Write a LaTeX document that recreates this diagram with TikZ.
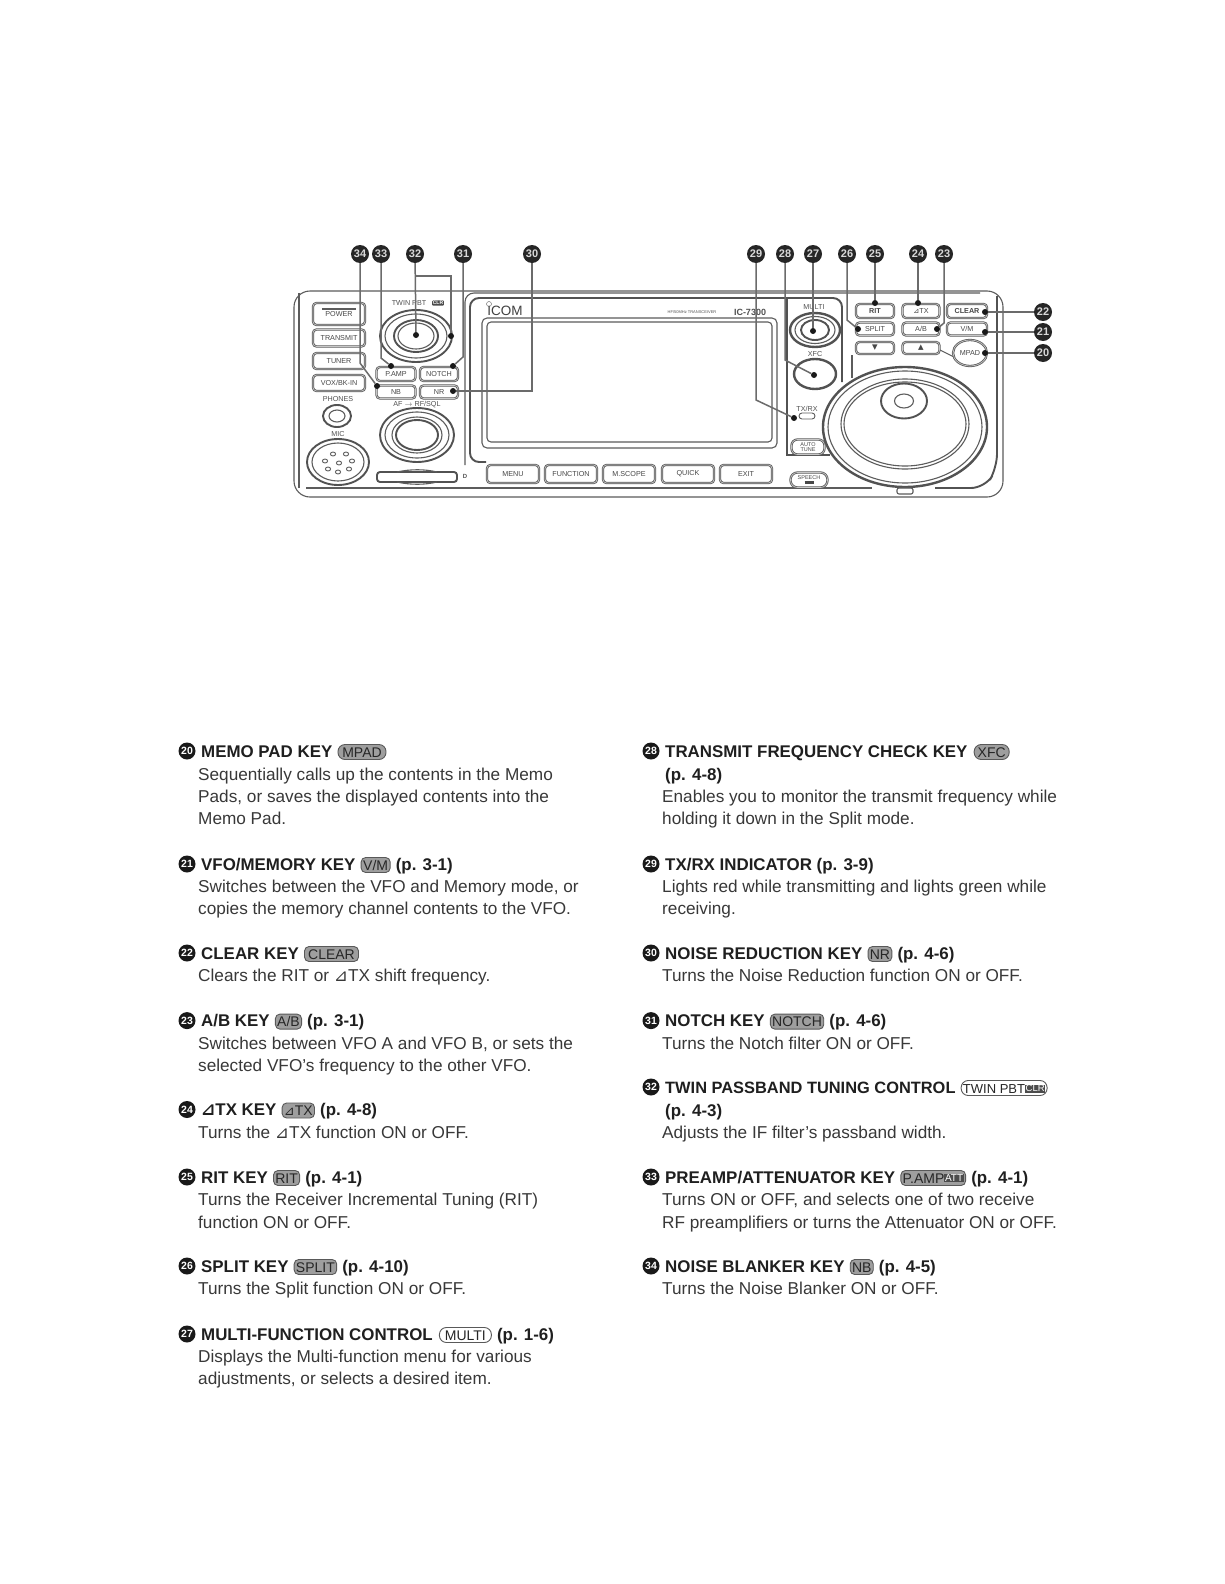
\documentclass[tikz,border=0pt]{standalone}
\usepackage{fontspec}
\setmainfont{Liberation Sans}
\newfontfamily\djv{DejaVu Sans}
\usetikzlibrary{shapes.geometric}
\definecolor{pl}{gray}{0.36}
\definecolor{tx}{gray}{0.22}
\newcommand{\fs}[1]{\fontsize{#1}{#1}\selectfont}
\newcommand{\tri}{{\djv\fontsize{17}{17}\selectfont ⊿}}
\newcommand{\trik}{{\djv\fontsize{13}{13}\selectfont ⊿}}
\newcommand{\pkey}[6]{\node[pkeyst,minimum width=#4pt,minimum height=#5pt] (#1) at (#2,#3) {#6};}
\newcommand{\ring}[5]{\draw[#5] (#1,#2) ellipse (#3pt and #4pt);}
\newcommand{\darktag}[2]{\raisebox{1.2pt}{\setlength{\fboxsep}{.6pt}\colorbox{black!70}{\textcolor{white}{\fs{#1}#2}}}}
\tikzset{
 bodyt/.style={anchor=base west,inner sep=0pt,font=\fs{17.2},text=tx},
 headt/.style={anchor=base west,inner sep=0pt,font=\bfseries\fs{16.9},text=black!88},
 pillst/.style={anchor=base west,draw=black!65,fill=black!38,line width=.9pt,rounded corners=4.5pt,inner xsep=1.8pt,inner ysep=1.5pt,text height=11pt,text depth=1pt,align=center,font=\fs{14},text=black!85},
 numt/.style={circle,fill=black!90,text=white,inner sep=0pt,minimum size=17pt,font=\bfseries\fs{10.5}},
 numd/.style={circle,fill=black!85,text=white!85!black,inner sep=0pt,minimum size=18pt,font=\bfseries\fs{11}},
 dotst/.style={circle,fill=black!90,inner sep=0pt,minimum size=6pt},
 pkeyst/.style={draw=pl,line width=.8pt,double=black!22,double distance=.7pt,rounded corners=3.5pt,inner sep=0pt,font=\fs{7.2},text=black!72},
 plab/.style={inner sep=0pt,font=\fs{7.2},text=black!68},
 pline/.style={draw=pl,line width=1.1pt},
 pthick/.style={draw=black!68,line width=1.9pt},
 conn/.style={draw=black!58,line width=1.5pt},
}
\begin{document}
\begin{tikzpicture}[x=1pt,y=-1pt]
\useasboundingbox[fill=white] (0,0) rectangle (1224,1584);
% --- panel body
\draw[pline,rounded corners=16pt] (294,497) -- (294,291) -- (1003,291) -- (1003,497) -- cycle;
\draw[pline,rounded corners=8pt] (299,488) -- (299,293);
\draw[pthick,rounded corners=14pt] (997,296) -- (997,468) -- (985,488) -- (935,488);
\draw[pline] (306,488) -- (872,488);
% screen frames
\draw[pthick,rounded corners=9pt] (486,462) -- (470,462) -- (470,298) -- (842,298) -- (842,382);
\draw[pline,rounded corners=9pt] (465,465) -- (465,293) -- (980,293);
\draw[pthick] (787,298) -- (787,455) -- (830,455);
\draw[pline,rounded corners=5pt] (482,318) rectangle (777,448);
\draw[pline,rounded corners=4pt] (487,322) rectangle (772,442);
\node[plab,font=\fs{13.5},text=black!75] (logo) at (505,311) {ICOM};
\node[draw=pl,circle,inner sep=0pt,minimum size=5pt] (logodot) at (489,304) {};
\node[plab,font=\fs{4}] (model) at (692,312) {HF/50MHz TRANSCEIVER};
\node[plab,font=\bfseries\fs{9}] (model2) at (750,312) {IC-7300};
% left keys
\pkey{kpow}{339}{314}{52}{22}{POWER}
\draw[pline,line width=1.5pt] (322,309) -- (356,309);
\pkey{ktrans}{339}{338}{52}{17}{TRANSMIT}
\pkey{ktun}{339}{361}{52}{16}{TUNER}
\pkey{kvox}{339}{383}{52}{16}{VOX/BK-IN}
\node[plab] (lphones) at (338,399) {PHONES};
\ring{337}{416}{14}{11}{pthick}
\ring{337}{416}{8}{6}{pline}
\node[plab] (lmic) at (338,434) {MIC};
\ring{338}{462}{31}{23}{pthick}
\ring{338}{462}{26}{19}{pline}
\foreach \px/\py in {325/461,333/454,346/454,352/461,328/469,339/463,338/472,349/469} {\draw[pline,line width=.9pt] (\px,\py) ellipse (2.6pt and 2pt);}
\draw[pthick,rounded corners=3pt] (377,472) rectangle (457,482);
\draw[pline] (397,472) .. controls (410,469) and (425,469) .. (437,472);
\draw[pline] (397,482) .. controls (410,485) and (425,485) .. (437,482);
\node[plab,font=\bfseries\fs{6}] (lsd) at (465,476) {D};
% twin knob
\node[plab] (ltwin) at (409,303) {TWIN PBT};
\node[fill=black!70,text=white,inner sep=.8pt,font=\bfseries\fs{5},rounded corners=1pt] (lclr) at (438,303) {CLR};
\ring{416}{336}{36}{26}{pthick}
\ring{416}{336}{31}{22}{pline}
\ring{416}{336}{22}{16}{pthick}
\ring{416}{336}{18}{13}{pline}
\pkey{ksamp}{396}{374}{39}{14}{P.AMP}
\pkey{knotch}{439}{374}{38}{14}{NOTCH}
\pkey{knb}{396}{392}{39}{13}{NB}
\pkey{knr}{439}{392}{38}{13}{NR}
\node[plab] (laf) at (417,405) {AF $\rightarrow$ RF/SQL};
\ring{417}{435}{37}{27}{pthick}
\ring{417}{435}{32}{23}{pline}
\ring{417}{435}{25}{18}{pline}
\ring{417}{435}{21}{15}{pthick}
% bottom keys
\pkey{kmenu}{513}{474}{52}{18}{MENU}
\pkey{kfunc}{571}{474}{52}{18}{FUNCTION}
\pkey{kscope}{629}{474}{52}{18}{M.SCOPE}
\pkey{kquick}{688}{474}{52}{18}{QUICK}
\pkey{kexit}{746}{474}{52}{18}{EXIT}
% right-hand controls
\node[plab] (lmulti) at (814,307) {MULTI};
\ring{815}{330}{25}{17}{pthick,line width=2.4pt}
\ring{815}{330}{20}{13.5}{pline}
\ring{815}{330}{14}{10}{pthick}
\node[plab] (lxfc) at (815,354) {XFC};
\ring{815}{374}{21}{15}{pthick,line width=2.4pt}
\node[plab] (ltxrx) at (807,409) {TX/RX};
\node[draw=pl,line width=.9pt,rounded corners=3pt,minimum width=16pt,minimum height=6pt,inner sep=0pt] (led) at (807,416) {};
\node[pkeyst,rounded corners=6pt,minimum width=33pt,minimum height=15pt,align=center,font=\fs{5.5}] (kauto) at (808,447) {AUTO\\[-1pt]TUNE};
\node[pkeyst,rounded corners=7pt,minimum width=37pt,minimum height=15pt,align=center,font=\fs{5.5}] (kspeech) at (809,480) {SPEECH\\[-1pt]\rule{9pt}{3pt}};
\pkey{krit}{875}{311}{38}{14}{\textbf{RIT}}
\pkey{kdtx}{921}{311}{37}{14}{{\djv ⊿}TX}
\pkey{ksplit}{875}{329}{38}{13}{SPLIT}
\pkey{kab}{921}{329}{37}{13}{A/B}
\pkey{kdn}{875}{348}{38}{12}{{\djv ▼}}
\pkey{kup}{921}{348}{37}{12}{{\djv ▲}}
\pkey{kclear}{967}{311}{40}{14}{\textbf{CLEAR}}
\pkey{kvm}{967}{329}{40}{13}{V/M}
\draw[pline] (852,355) -- (852,378);
\draw[pline] (940,350) -- (956,358);
\node[pkeyst,ellipse,minimum width=34pt,minimum height=26pt,fill=white] (kmpad) at (970,353) {MPAD};
% main dial
\ring{905}{427}{82}{60}{pthick,fill=white,line width=2.4pt}
\ring{905}{427}{77}{56}{pline}
\ring{905}{424}{64}{45}{pline}
\ring{905}{424}{61}{42}{pline}
\ring{904}{401}{23}{17.5}{pthick}
\ring{904}{401}{9.5}{7}{pline}
\draw[pline,rounded corners=2pt] (897,488) rectangle (913,494);
% connectors and numbers of the panel
\node[numd] (c34) at (360,254) {34};
\node[numd] (c33) at (381,254) {33};
\node[numd] (c32) at (415,254) {32};
\node[numd] (c31) at (463,254) {31};
\node[numd] (c30) at (532,254) {30};
\node[numd] (c29) at (756,254) {29};
\node[numd] (c28) at (785,254) {28};
\node[numd] (c27) at (813,254) {27};
\node[numd] (c26) at (847,254) {26};
\node[numd] (c25) at (875,254) {25};
\node[numd] (c24) at (918,254) {24};
\node[numd] (c23) at (944,254) {23};
\node[numd] (c22) at (1043,312) {22};
\node[numd] (c21) at (1043,332) {21};
\node[numd] (c20) at (1043,353) {20};
\node[dotst] (d34) at (377,386) {};
\node[dotst] (d33) at (391,366) {};
\node[dotst] (d32) at (416,335) {};
\node[dotst] (d32b) at (451,336) {};
\node[dotst] (d31) at (453,366) {};
\node[dotst] (d30) at (453,391) {};
\node[dotst] (d29) at (794,418) {};
\node[dotst] (d28) at (814,375) {};
\node[dotst] (d27) at (813,331) {};
\node[dotst] (d26) at (858,329) {};
\node[dotst] (d25) at (875,303) {};
\node[dotst] (d24) at (918,303) {};
\node[dotst] (d23) at (937,329) {};
\node[dotst] (d22) at (985,312) {};
\node[dotst] (d21) at (985,332) {};
\node[dotst] (d20) at (985,353) {};
\draw[conn] (c34) -- (c34.south |- 0,363) -- (d34);
\draw[conn] (c33) -- (c33.south |- 0,358) -- (d33);
\draw[conn] (c32) -- (d32);
\draw[conn] (c32.south |- 0,276) -- (d32b.center |- 0,276) -- (d32b);
\draw[conn] (c31) -- (c31.south |- 0,357) -- (d31);
\draw[conn] (c30) -- (c30.south |- 0,391) -- (d30);
\draw[conn] (c29) -- (c29.south |- 0,400) -- (d29);
\draw[conn] (c28) -- (c28.south |- 0,360) -- (d28);
\draw[conn] (c27) -- (d27);
\draw[conn] (c26) -- (c26.south |- 0,320) -- (d26);
\draw[conn] (c25) -- (d25);
\draw[conn] (c24) -- (d24);
\draw[conn] (c23) -- (c23.south |- 0,323) -- (d23);
\draw[conn] (c22) -- (d22);
\draw[conn] (c21) -- (d21);
\draw[conn] (c20) -- (d20);
% --- left column
\node[numt] (n20) at (187,751) {20};
\node[headt] (h20) at (201,757) {MEMO PAD KEY};
\node[pillst,rounded corners=7pt,minimum width=48pt] (k20) at ([xshift=5pt]h20.base east) {MPAD};
\node[bodyt] (b20a) at (198,780) {Sequentially calls up the contents in the Memo};
\node[bodyt] (b20b) at (198,802) {Pads, or saves the displayed contents into the};
\node[bodyt] (b20c) at (198,824.5) {Memo Pad.};
\node[numt] (n21) at (187,864) {21};
\node[headt] (h21) at (201,870) {VFO/MEMORY KEY};
\node[pillst,minimum width=29pt] (k21) at ([xshift=5pt]h21.base east) {V/M};
\node[headt] (p21) at ([xshift=5pt]k21.base east) {(p. 3-1)};
\node[bodyt] (b21a) at (198,892) {Switches between the VFO and Memory mode, or};
\node[bodyt] (b21b) at (198,914.5) {copies the memory channel contents to the VFO.};
\node[numt] (n22) at (187,953) {22};
\node[headt] (h22) at (201,959) {CLEAR KEY};
\node[pillst,minimum width=54pt] (k22) at ([xshift=5pt]h22.base east) {CLEAR};
\node[bodyt] (b22a) at (198,981) {Clears the RIT or \tri TX shift frequency.};
\node[numt] (n23) at (187,1020.6) {23};
\node[headt] (h23) at (201,1026.6) {A/B KEY};
\node[pillst] (k23) at ([xshift=5pt]h23.base east) {A/B};
\node[headt] (p23) at ([xshift=5pt]k23.base east) {(p. 3-1)};
\node[bodyt] (b23a) at (198,1049) {Switches between VFO A and VFO B, or sets the};
\node[bodyt] (b23b) at (198,1071) {selected VFO’s frequency to the other VFO.};
\node[numt] (n24) at (187,1109.5) {24};
\node[headt] (h24) at (201,1115.5) {\tri TX KEY};
\node[pillst] (k24) at ([xshift=5pt]h24.base east) {\trik TX};
\node[headt] (p24) at ([xshift=5pt]k24.base east) {(p. 4-8)};
\node[bodyt] (b24a) at (198,1138) {Turns the \tri TX function ON or OFF.};
\node[numt] (n25) at (187,1177) {25};
\node[headt] (h25) at (201,1183) {RIT KEY};
\node[pillst] (k25) at ([xshift=5pt]h25.base east) {RIT};
\node[headt] (p25) at ([xshift=5pt]k25.base east) {(p. 4-1)};
\node[bodyt] (b25a) at (198,1205) {Turns the Receiver Incremental Tuning (RIT)};
\node[bodyt] (b25b) at (198,1228) {function ON or OFF.};
\node[numt] (n26) at (187,1266) {26};
\node[headt] (h26) at (201,1272) {SPLIT KEY};
\node[pillst] (k26) at ([xshift=5pt]h26.base east) {SPLIT};
\node[headt] (p26) at ([xshift=5pt]k26.base east) {(p. 4-10)};
\node[bodyt] (b26a) at (198,1294) {Turns the Split function ON or OFF.};
\node[numt] (n27) at (187,1334) {27};
\node[headt] (h27) at (201,1340) {MULTI-FUNCTION CONTROL};
\node[pillst,fill=white,rounded corners=7pt,minimum width=52pt] (k27) at ([xshift=6pt]h27.base east) {MULTI};
\node[headt] (p27) at ([xshift=5pt]k27.base east) {(p. 1-6)};
\node[bodyt] (b27a) at (198,1362) {Displays the Multi-function menu for various};
\node[bodyt] (b27b) at (198,1384) {adjustments, or selects a desired item.};
% --- right column
\node[numt] (n28) at (651,751) {28};
\node[headt] (h28) at (665,757) {TRANSMIT FREQUENCY CHECK KEY};
\node[pillst,rounded corners=7pt,minimum width=35pt] (k28) at ([xshift=6pt]h28.base east) {XFC};
\node[headt] (p28) at (665,780) {(p. 4-8)};
\node[bodyt] (b28a) at (662,802) {Enables you to monitor the transmit frequency while};
\node[bodyt] (b28b) at (662,824.5) {holding it down in the Split mode.};
\node[numt] (n29) at (651,864) {29};
\node[headt] (h29) at (665,870) {TX/RX INDICATOR (p. 3-9)};
\node[bodyt] (b29a) at (662,892) {Lights red while transmitting and lights green while};
\node[bodyt] (b29b) at (662,914.5) {receiving.};
\node[numt] (n30) at (651,953) {30};
\node[headt] (h30) at (665,959) {NOISE REDUCTION KEY};
\node[pillst] (k30) at ([xshift=5pt]h30.base east) {NR};
\node[headt] (p30) at ([xshift=5pt]k30.base east) {(p. 4-6)};
\node[bodyt] (b30a) at (662,981) {Turns the Noise Reduction function ON or OFF.};
\node[numt] (n31) at (651,1020.6) {31};
\node[headt] (h31) at (665,1026.6) {NOTCH KEY};
\node[pillst] (k31) at ([xshift=5pt]h31.base east) {NOTCH};
\node[headt] (p31) at ([xshift=5pt]k31.base east) {(p. 4-6)};
\node[bodyt] (b31a) at (662,1049) {Turns the Notch filter ON or OFF.};
\node[numt] (n32) at (651,1087) {32};
\node[headt,font=\bfseries\fs{16.4}] (h32) at (665,1093) {TWIN PASSBAND TUNING CONTROL};
\node[pillst,fill=white,rounded corners=7pt,font=\fs{13}] (k32) at ([xshift=5pt]h32.base east) {TWIN PBT\darktag{9.5}{CLR}};
\node[headt] (p32) at (665,1116) {(p. 4-3)};
\node[bodyt] (b32a) at (662,1138) {Adjusts the IF filter’s passband width.};
\node[numt] (n33) at (651,1177) {33};
\node[headt] (h33) at (665,1183) {PREAMP/ATTENUATOR KEY};
\node[pillst] (k33) at ([xshift=5pt]h33.base east) {P.AMP\darktag{10}{ATT}};
\node[headt] (p33) at ([xshift=5pt]k33.base east) {(p. 4-1)};
\node[bodyt] (b33a) at (662,1205) {Turns ON or OFF, and selects one of two receive};
\node[bodyt] (b33b) at (662,1228) {RF preamplifiers or turns the Attenuator ON or OFF.};
\node[numt] (n34) at (651,1266) {34};
\node[headt] (h34) at (665,1272) {NOISE BLANKER KEY};
\node[pillst] (k34) at ([xshift=5pt]h34.base east) {NB};
\node[headt] (p34) at ([xshift=5pt]k34.base east) {(p. 4-5)};
\node[bodyt] (b34a) at (662,1294) {Turns the Noise Blanker ON or OFF.};
\end{tikzpicture}
\end{document}
